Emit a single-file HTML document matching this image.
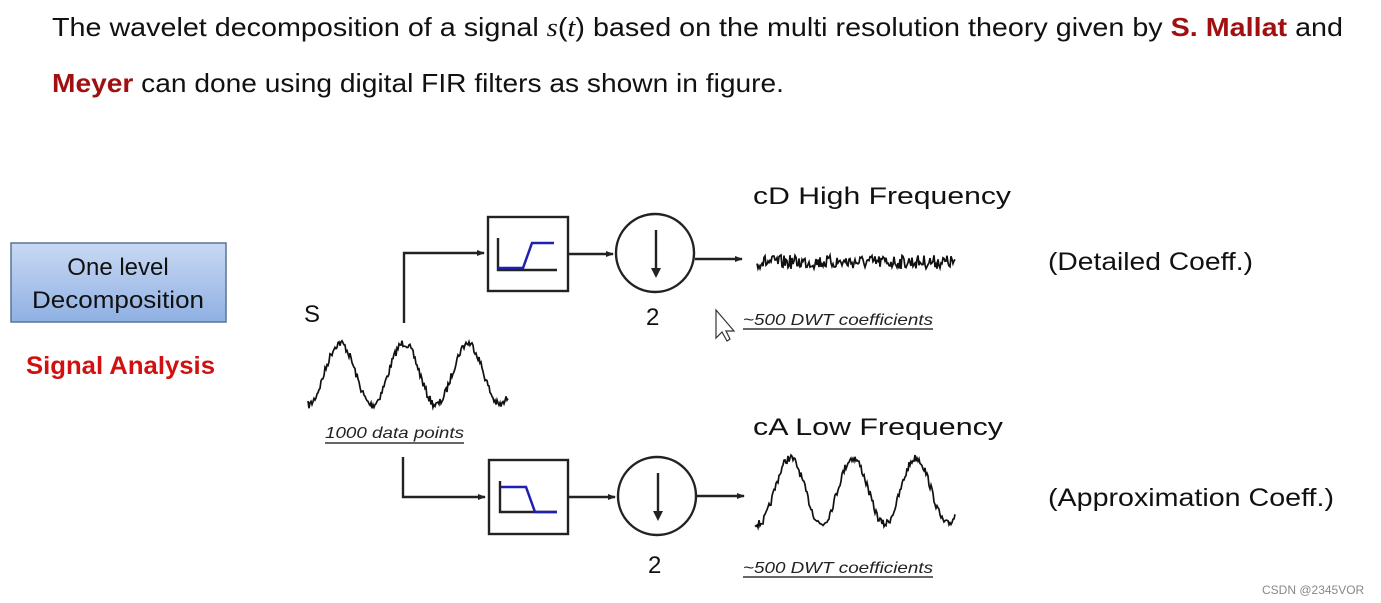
<!DOCTYPE html>
<html><head><meta charset="utf-8"><style>
html,body{margin:0;padding:0;background:#fff;}
svg{display:block}
text{font-family:"Liberation Sans",sans-serif}
</style></head><body>
<svg id="s" width="1381" height="603" viewBox="0 0 1381 603" xmlns="http://www.w3.org/2000/svg">
<defs>
<linearGradient id="g" x1="0" y1="0" x2="0" y2="1"><stop offset="0" stop-color="#c9d9f3"/><stop offset="1" stop-color="#8fb0e3"/></linearGradient>
<marker id="ah" markerWidth="8" markerHeight="8" refX="7" refY="4" orient="auto" markerUnits="userSpaceOnUse"><path d="M0,1 L8,4 L0,7 z" fill="#222"/></marker>
</defs>
<text x="52" y="36" font-size="26" fill="#111" textLength="1291" lengthAdjust="spacingAndGlyphs">The wavelet decomposition of a signal <tspan font-family="Liberation Serif" font-style="italic">s</tspan>(<tspan font-family="Liberation Serif" font-style="italic">t</tspan>) based on the multi resolution theory given by <tspan fill="#a01010" font-weight="bold">S. Mallat</tspan> and</text>
<text x="52" y="92" font-size="26" fill="#111" textLength="732" lengthAdjust="spacingAndGlyphs"><tspan fill="#a01010" font-weight="bold">Meyer</tspan> can done using digital FIR filters as shown in figure.</text>

<rect x="11" y="243" width="215" height="79" fill="url(#g)" stroke="#5a7396" stroke-width="1.5"/>
<text x="118" y="275" font-size="24" text-anchor="middle" fill="#111">One level</text>
<text x="118" y="308" font-size="24" text-anchor="middle" fill="#111" textLength="172" lengthAdjust="spacingAndGlyphs">Decomposition</text>
<text x="26" y="374" font-size="25" font-weight="bold" fill="#d11010" textLength="189" lengthAdjust="spacingAndGlyphs">Signal Analysis</text>

<g stroke="#222" stroke-width="2.4" fill="none">
<path d="M404,323 V253 H484" marker-end="url(#ah)"/>
<path d="M403,457 V497 H485" marker-end="url(#ah)"/>
<rect x="488" y="217" width="80" height="74"/>
<rect x="489" y="460" width="79" height="74"/>
<path d="M568,254 H613" marker-end="url(#ah)"/>
<path d="M568,497 H615" marker-end="url(#ah)"/>
<circle cx="655" cy="253" r="39"/>
<circle cx="657" cy="496" r="39"/>
<path d="M695,259 H742" marker-end="url(#ah)"/>
<path d="M697,496 H744" marker-end="url(#ah)"/>
<path d="M656,230 V272"/><path d="M658,473 V515"/>
<path d="M498,238 V270 H557"/>
<path d="M500,481 V512 H557"/>
</g>
<path d="M651,268 L656,278 L661,268z" fill="#222"/>
<path d="M653,511 L658,521 L663,511z" fill="#222"/>
<path d="M498,268 H523 L532,243 H554" stroke="#2020b0" stroke-width="2.5" fill="none"/>
<path d="M501,487 H526 L535,512 H557" stroke="#2020b0" stroke-width="2.5" fill="none"/>

<text x="304" y="322" font-size="24" fill="#111">S</text>
<text x="646" y="325" font-size="24" fill="#111">2</text>
<text x="648" y="573" font-size="24" fill="#111">2</text>
<text x="753" y="204" font-size="24" fill="#111" textLength="258" lengthAdjust="spacingAndGlyphs">cD   High Frequency</text>
<text x="753" y="435" font-size="24" fill="#111" textLength="250" lengthAdjust="spacingAndGlyphs">cA   Low Frequency</text>
<text x="1048" y="270" font-size="25" fill="#111" textLength="205" lengthAdjust="spacingAndGlyphs">(Detailed Coeff.)</text>
<text x="1048" y="506" font-size="25" fill="#111" textLength="286" lengthAdjust="spacingAndGlyphs">(Approximation Coeff.)</text>
<g font-size="16" font-style="italic" fill="#222">
<text x="325" y="438" textLength="139" lengthAdjust="spacingAndGlyphs">1000 data points</text>
<text x="743" y="325" textLength="190" lengthAdjust="spacingAndGlyphs">~500 DWT coefficients</text>
<text x="743" y="573" textLength="190" lengthAdjust="spacingAndGlyphs">~500 DWT coefficients</text>
</g>
<g stroke="#333" stroke-width="1.5">
<path d="M325,443 H464"/><path d="M743,329 H933"/><path d="M743,577 H933"/>
</g>
<path d="M716,310 V338 L722,332 L727,341 L730,339 L726,331 L734,331 z" fill="#fff" stroke="#333" stroke-width="1.2"/>
<text x="1262" y="594" font-size="12" fill="#888">CSDN @2345VOR</text>
<g id="waves" fill="none" stroke="#111" stroke-width="1.7"></g>
</svg>
<script>
var seed=7;function r(){seed=(seed*16807)%2147483647;return seed/2147483647-0.5;}
function wave(x0,x1,yc,amp,per,ph,noise){var d="";for(var x=x0;x<=x1;x+=1){var y=yc-amp*Math.cos(2*Math.PI*(x-ph)/per)+noise*r()*2;d+=(x==x0?"M":"L")+x+","+y.toFixed(1);}return d;}
var g=document.getElementById("waves");
function add(d){var p=document.createElementNS("http://www.w3.org/2000/svg","path");p.setAttribute("d",d);g.appendChild(p);}
add(wave(308,508,374,31,64,340,4));
add(wave(755,955,491,33,63,790,4));
add(wave(757,955,262,0,50,0,7));
</script>
</body></html>
